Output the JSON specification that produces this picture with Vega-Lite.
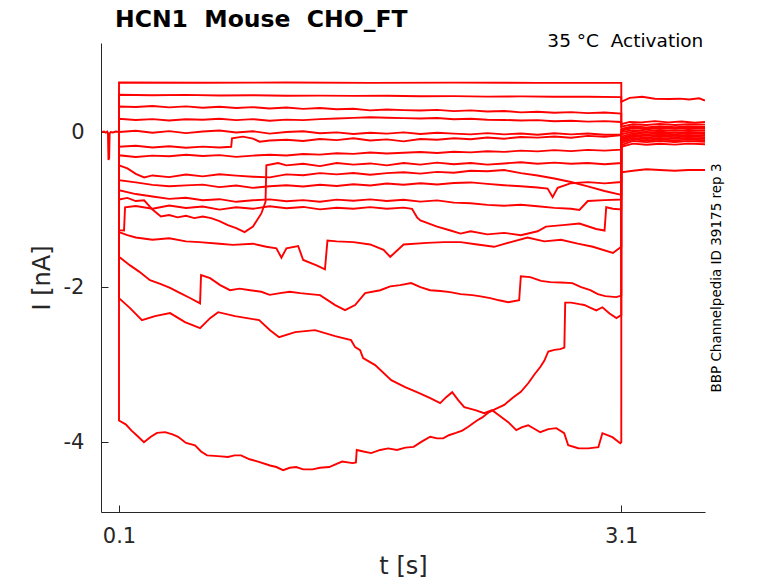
{
"$schema": "https://vega.github.io/schema/vega-lite/v6.json",
"width": 604, "height": 469,
"autosize": {"type": "none"},
"padding": {"left": 101, "top": 43, "right": 73, "bottom": 71},
"background": "white",
"config": {"view": {"stroke": null}, "font": "DejaVu Sans"},
"layer": [
{
"data": {"values": [
{"s":"pre","t":0,"i":0},{"s":"pre","t":0.01,"i":0.006},{"s":"pre","t":0.02,"i":-0.008},{"s":"pre","t":0.03,"i":0.004},{"s":"pre","t":0.034,"i":-0.02},{"s":"pre","t":0.037,"i":-0.36},{"s":"pre","t":0.041,"i":-0.34},{"s":"pre","t":0.044,"i":-0.02},{"s":"pre","t":0.05,"i":0},{"s":"pre","t":0.065,"i":-0.006},{"s":"pre","t":0.08,"i":0.006},{"s":"pre","t":0.0999,"i":0},
{"s":"a","t":0.0999,"i":0},{"s":"a","t":0.1,"i":0.638},{"s":"a","t":0.6,"i":0.635},{"s":"a","t":1.1,"i":0.638},{"s":"a","t":1.6,"i":0.634},{"s":"a","t":2.1,"i":0.637},{"s":"a","t":2.6,"i":0.634},{"s":"a","t":3.1,"i":0.634},{"s":"a","t":3.1001,"i":0.39},{"s":"a","t":3.15,"i":0.44},{"s":"a","t":3.225,"i":0.455},{"s":"a","t":3.3,"i":0.43},{"s":"a","t":3.385,"i":0.425},{"s":"a","t":3.45,"i":0.43},{"s":"a","t":3.505,"i":0.42},{"s":"a","t":3.565,"i":0.435},{"s":"a","t":3.6,"i":0.405},
{"s":"b","t":0.0999,"i":0},{"s":"b","t":0.1,"i":0.48},{"s":"b","t":0.3,"i":0.474},{"s":"b","t":0.5,"i":0.479},{"s":"b","t":0.7,"i":0.471},{"s":"b","t":0.9,"i":0.475},{"s":"b","t":1.1,"i":0.468},{"s":"b","t":1.3,"i":0.47},{"s":"b","t":1.5,"i":0.466},{"s":"b","t":1.7,"i":0.468},{"s":"b","t":1.9,"i":0.461},{"s":"b","t":2.1,"i":0.463},{"s":"b","t":2.3,"i":0.457},{"s":"b","t":2.5,"i":0.46},{"s":"b","t":2.7,"i":0.454},{"s":"b","t":2.9,"i":0.455},{"s":"b","t":3.1,"i":0.45},{"s":"b","t":3.1001,"i":0.1},{"s":"b","t":3.15,"i":0.13},{"s":"b","t":3.22,"i":0.125},{"s":"b","t":3.3,"i":0.14},{"s":"b","t":3.38,"i":0.125},{"s":"b","t":3.46,"i":0.135},{"s":"b","t":3.54,"i":0.12},{"s":"b","t":3.6,"i":0.13},
{"s":"c","t":0.0999,"i":0},{"s":"c","t":0.1,"i":0.33},{"s":"c","t":0.2,"i":0.322},{"s":"c","t":0.3,"i":0.336},{"s":"c","t":0.4,"i":0.318},{"s":"c","t":0.5,"i":0.331},{"s":"c","t":0.6,"i":0.314},{"s":"c","t":0.7,"i":0.326},{"s":"c","t":0.8,"i":0.309},{"s":"c","t":0.9,"i":0.321},{"s":"c","t":1.0,"i":0.304},{"s":"c","t":1.1,"i":0.316},{"s":"c","t":1.2,"i":0.299},{"s":"c","t":1.3,"i":0.31},{"s":"c","t":1.4,"i":0.294},{"s":"c","t":1.5,"i":0.301},{"s":"c","t":1.6,"i":0.279},{"s":"c","t":1.7,"i":0.291},{"s":"c","t":1.8,"i":0.283},{"s":"c","t":1.9,"i":0.278},{"s":"c","t":2.0,"i":0.286},{"s":"c","t":2.1,"i":0.269},{"s":"c","t":2.2,"i":0.279},{"s":"c","t":2.3,"i":0.264},{"s":"c","t":2.4,"i":0.271},{"s":"c","t":2.5,"i":0.254},{"s":"c","t":2.6,"i":0.262},{"s":"c","t":2.7,"i":0.249},{"s":"c","t":2.8,"i":0.256},{"s":"c","t":2.9,"i":0.244},{"s":"c","t":3.0,"i":0.251},{"s":"c","t":3.1,"i":0.238},{"s":"c","t":3.1001,"i":0.07},{"s":"c","t":3.17,"i":0.1},{"s":"c","t":3.25,"i":0.09},{"s":"c","t":3.33,"i":0.105},{"s":"c","t":3.42,"i":0.09},{"s":"c","t":3.5,"i":0.1},{"s":"c","t":3.6,"i":0.095},
{"s":"d","t":0.0999,"i":0},{"s":"d","t":0.1,"i":0.17},{"s":"d","t":0.2,"i":0.155},{"s":"d","t":0.3,"i":0.166},{"s":"d","t":0.4,"i":0.149},{"s":"d","t":0.5,"i":0.164},{"s":"d","t":0.6,"i":0.158},{"s":"d","t":0.7,"i":0.171},{"s":"d","t":0.8,"i":0.154},{"s":"d","t":0.9,"i":0.166},{"s":"d","t":1.0,"i":0.146},{"s":"d","t":1.1,"i":0.16},{"s":"d","t":1.2,"i":0.153},{"s":"d","t":1.3,"i":0.166},{"s":"d","t":1.4,"i":0.175},{"s":"d","t":1.5,"i":0.182},{"s":"d","t":1.6,"i":0.19},{"s":"d","t":1.7,"i":0.184},{"s":"d","t":1.8,"i":0.179},{"s":"d","t":1.9,"i":0.174},{"s":"d","t":2.0,"i":0.181},{"s":"d","t":2.1,"i":0.165},{"s":"d","t":2.2,"i":0.171},{"s":"d","t":2.3,"i":0.159},{"s":"d","t":2.4,"i":0.156},{"s":"d","t":2.5,"i":0.149},{"s":"d","t":2.6,"i":0.154},{"s":"d","t":2.7,"i":0.139},{"s":"d","t":2.8,"i":0.145},{"s":"d","t":2.9,"i":0.134},{"s":"d","t":3.0,"i":0.14},{"s":"d","t":3.1,"i":0.13},{"s":"d","t":3.1001,"i":0.04},{"s":"d","t":3.17,"i":0.075},{"s":"d","t":3.25,"i":0.06},{"s":"d","t":3.33,"i":0.075},{"s":"d","t":3.42,"i":0.062},{"s":"d","t":3.5,"i":0.072},{"s":"d","t":3.6,"i":0.065},
{"s":"e","t":0.0999,"i":0},{"s":"e","t":0.1,"i":0.0},{"s":"e","t":0.2,"i":0.016},{"s":"e","t":0.3,"i":-0.01},{"s":"e","t":0.4,"i":0.012},{"s":"e","t":0.5,"i":-0.014},{"s":"e","t":0.6,"i":0.006},{"s":"e","t":0.7,"i":0.02},{"s":"e","t":0.8,"i":-0.006},{"s":"e","t":0.9,"i":0.01},{"s":"e","t":1.0,"i":-0.02},{"s":"e","t":1.1,"i":0.0},{"s":"e","t":1.2,"i":0.01},{"s":"e","t":1.3,"i":-0.016},{"s":"e","t":1.4,"i":-0.004},{"s":"e","t":1.5,"i":-0.026},{"s":"e","t":1.6,"i":-0.01},{"s":"e","t":1.7,"i":-0.02},{"s":"e","t":1.8,"i":-0.004},{"s":"e","t":1.9,"i":-0.026},{"s":"e","t":2.0,"i":-0.01},{"s":"e","t":2.1,"i":-0.02},{"s":"e","t":2.2,"i":-0.03},{"s":"e","t":2.3,"i":-0.014},{"s":"e","t":2.4,"i":-0.03},{"s":"e","t":2.5,"i":-0.02},{"s":"e","t":2.6,"i":-0.036},{"s":"e","t":2.7,"i":-0.016},{"s":"e","t":2.8,"i":-0.03},{"s":"e","t":2.9,"i":-0.02},{"s":"e","t":3.0,"i":-0.036},{"s":"e","t":3.1,"i":-0.03},{"s":"e","t":3.1001,"i":0.02},{"s":"e","t":3.17,"i":0.05},{"s":"e","t":3.25,"i":0.035},{"s":"e","t":3.33,"i":0.05},{"s":"e","t":3.42,"i":0.04},{"s":"e","t":3.5,"i":0.05},{"s":"e","t":3.6,"i":0.04},
{"s":"f","t":0.0999,"i":0},{"s":"f","t":0.1,"i":-0.19},{"s":"f","t":0.2,"i":-0.178},{"s":"f","t":0.3,"i":-0.2},{"s":"f","t":0.4,"i":-0.184},{"s":"f","t":0.5,"i":-0.202},{"s":"f","t":0.6,"i":-0.188},{"s":"f","t":0.7,"i":-0.2},{"s":"f","t":0.77,"i":-0.19},{"s":"f","t":0.775,"i":-0.08},{"s":"f","t":0.84,"i":-0.06},{"s":"f","t":0.9,"i":-0.085},{"s":"f","t":0.94,"i":-0.125},{"s":"f","t":1.0,"i":-0.11},{"s":"f","t":1.1,"i":-0.1},{"s":"f","t":1.2,"i":-0.115},{"s":"f","t":1.3,"i":-0.09},{"s":"f","t":1.4,"i":-0.105},{"s":"f","t":1.5,"i":-0.08},{"s":"f","t":1.6,"i":-0.11},{"s":"f","t":1.7,"i":-0.095},{"s":"f","t":1.8,"i":-0.12},{"s":"f","t":1.9,"i":-0.09},{"s":"f","t":2.0,"i":-0.1},{"s":"f","t":2.1,"i":-0.08},{"s":"f","t":2.2,"i":-0.094},{"s":"f","t":2.3,"i":-0.07},{"s":"f","t":2.4,"i":-0.086},{"s":"f","t":2.5,"i":-0.064},{"s":"f","t":2.6,"i":-0.072},{"s":"f","t":2.7,"i":-0.058},{"s":"f","t":2.8,"i":-0.074},{"s":"f","t":2.9,"i":-0.05},{"s":"f","t":3.0,"i":-0.06},{"s":"f","t":3.1,"i":-0.04},{"s":"f","t":3.1001,"i":0.0},{"s":"f","t":3.17,"i":0.025},{"s":"f","t":3.25,"i":0.012},{"s":"f","t":3.33,"i":0.028},{"s":"f","t":3.42,"i":0.015},{"s":"f","t":3.5,"i":0.026},{"s":"f","t":3.6,"i":0.018},
{"s":"g","t":0.0999,"i":0},{"s":"g","t":0.1,"i":-0.3},{"s":"g","t":0.2,"i":-0.322},{"s":"g","t":0.3,"i":-0.304},{"s":"g","t":0.4,"i":-0.312},{"s":"g","t":0.5,"i":-0.294},{"s":"g","t":0.6,"i":-0.31},{"s":"g","t":0.7,"i":-0.298},{"s":"g","t":0.8,"i":-0.32},{"s":"g","t":0.9,"i":-0.304},{"s":"g","t":1.0,"i":-0.294},{"s":"g","t":1.1,"i":-0.302},{"s":"g","t":1.2,"i":-0.284},{"s":"g","t":1.3,"i":-0.292},{"s":"g","t":1.4,"i":-0.274},{"s":"g","t":1.5,"i":-0.282},{"s":"g","t":1.6,"i":-0.264},{"s":"g","t":1.7,"i":-0.276},{"s":"g","t":1.8,"i":-0.268},{"s":"g","t":1.9,"i":-0.258},{"s":"g","t":2.0,"i":-0.27},{"s":"g","t":2.1,"i":-0.254},{"s":"g","t":2.2,"i":-0.262},{"s":"g","t":2.3,"i":-0.248},{"s":"g","t":2.4,"i":-0.256},{"s":"g","t":2.5,"i":-0.24},{"s":"g","t":2.6,"i":-0.25},{"s":"g","t":2.7,"i":-0.234},{"s":"g","t":2.8,"i":-0.246},{"s":"g","t":2.9,"i":-0.23},{"s":"g","t":3.0,"i":-0.24},{"s":"g","t":3.1,"i":-0.228},{"s":"g","t":3.1001,"i":-0.03},{"s":"g","t":3.17,"i":0.005},{"s":"g","t":3.25,"i":-0.01},{"s":"g","t":3.33,"i":0.004},{"s":"g","t":3.42,"i":-0.008},{"s":"g","t":3.5,"i":0.002},{"s":"g","t":3.6,"i":-0.006},
{"s":"h","t":0.0999,"i":0},{"s":"h","t":0.1,"i":-0.43},{"s":"h","t":0.15,"i":-0.47},{"s":"h","t":0.2,"i":-0.54},{"s":"h","t":0.25,"i":-0.585},{"s":"h","t":0.3,"i":-0.56},{"s":"h","t":0.4,"i":-0.582},{"s":"h","t":0.5,"i":-0.548},{"s":"h","t":0.6,"i":-0.572},{"s":"h","t":0.7,"i":-0.544},{"s":"h","t":0.8,"i":-0.562},{"s":"h","t":0.9,"i":-0.576},{"s":"h","t":1.0,"i":-0.585},{"s":"h","t":1.1,"i":-0.546},{"s":"h","t":1.2,"i":-0.558},{"s":"h","t":1.3,"i":-0.53},{"s":"h","t":1.4,"i":-0.546},{"s":"h","t":1.5,"i":-0.528},{"s":"h","t":1.6,"i":-0.55},{"s":"h","t":1.7,"i":-0.53},{"s":"h","t":1.8,"i":-0.518},{"s":"h","t":1.9,"i":-0.536},{"s":"h","t":2.0,"i":-0.514},{"s":"h","t":2.1,"i":-0.526},{"s":"h","t":2.2,"i":-0.5},{"s":"h","t":2.3,"i":-0.505},{"s":"h","t":2.4,"i":-0.49},{"s":"h","t":2.5,"i":-0.53},{"s":"h","t":2.6,"i":-0.56},{"s":"h","t":2.7,"i":-0.6},{"s":"h","t":2.8,"i":-0.645},{"s":"h","t":2.9,"i":-0.7},{"s":"h","t":3.0,"i":-0.76},{"s":"h","t":3.1,"i":-0.81},{"s":"h","t":3.1001,"i":-0.06},{"s":"h","t":3.17,"i":-0.015},{"s":"h","t":3.25,"i":-0.03},{"s":"h","t":3.33,"i":-0.016},{"s":"h","t":3.42,"i":-0.028},{"s":"h","t":3.5,"i":-0.018},{"s":"h","t":3.6,"i":-0.026},
{"s":"i","t":0.0999,"i":0},{"s":"i","t":0.1,"i":-0.62},{"s":"i","t":0.2,"i":-0.65},{"s":"i","t":0.3,"i":-0.682},{"s":"i","t":0.4,"i":-0.7},{"s":"i","t":0.5,"i":-0.688},{"s":"i","t":0.6,"i":-0.678},{"s":"i","t":0.7,"i":-0.71},{"s":"i","t":0.8,"i":-0.69},{"s":"i","t":0.9,"i":-0.72},{"s":"i","t":1.0,"i":-0.7},{"s":"i","t":1.1,"i":-0.686},{"s":"i","t":1.2,"i":-0.702},{"s":"i","t":1.3,"i":-0.68},{"s":"i","t":1.4,"i":-0.696},{"s":"i","t":1.5,"i":-0.674},{"s":"i","t":1.6,"i":-0.69},{"s":"i","t":1.7,"i":-0.664},{"s":"i","t":1.8,"i":-0.68},{"s":"i","t":1.9,"i":-0.66},{"s":"i","t":2.0,"i":-0.676},{"s":"i","t":2.1,"i":-0.658},{"s":"i","t":2.2,"i":-0.65},{"s":"i","t":2.3,"i":-0.668},{"s":"i","t":2.4,"i":-0.686},{"s":"i","t":2.5,"i":-0.7},{"s":"i","t":2.6,"i":-0.716},{"s":"i","t":2.66,"i":-0.73},{"s":"i","t":2.69,"i":-0.84},{"s":"i","t":2.72,"i":-0.72},{"s":"i","t":2.8,"i":-0.66},{"s":"i","t":2.9,"i":-0.646},{"s":"i","t":3.0,"i":-0.662},{"s":"i","t":3.1,"i":-0.645},{"s":"i","t":3.1001,"i":-0.08},{"s":"i","t":3.17,"i":-0.035},{"s":"i","t":3.25,"i":-0.05},{"s":"i","t":3.33,"i":-0.036},{"s":"i","t":3.42,"i":-0.048},{"s":"i","t":3.5,"i":-0.038},{"s":"i","t":3.6,"i":-0.046},
{"s":"j","t":0.0999,"i":0},{"s":"j","t":0.1,"i":-0.75},{"s":"j","t":0.2,"i":-0.8},{"s":"j","t":0.3,"i":-0.832},{"s":"j","t":0.4,"i":-0.862},{"s":"j","t":0.5,"i":-0.848},{"s":"j","t":0.6,"i":-0.88},{"s":"j","t":0.7,"i":-0.866},{"s":"j","t":0.8,"i":-0.9},{"s":"j","t":0.9,"i":-0.88},{"s":"j","t":1.0,"i":-0.868},{"s":"j","t":1.1,"i":-0.892},{"s":"j","t":1.2,"i":-0.878},{"s":"j","t":1.3,"i":-0.9},{"s":"j","t":1.4,"i":-0.872},{"s":"j","t":1.5,"i":-0.886},{"s":"j","t":1.6,"i":-0.868},{"s":"j","t":1.7,"i":-0.89},{"s":"j","t":1.8,"i":-0.874},{"s":"j","t":1.9,"i":-0.898},{"s":"j","t":2.0,"i":-0.882},{"s":"j","t":2.1,"i":-0.91},{"s":"j","t":2.2,"i":-0.918},{"s":"j","t":2.3,"i":-0.94},{"s":"j","t":2.4,"i":-0.95},{"s":"j","t":2.5,"i":-0.938},{"s":"j","t":2.6,"i":-0.958},{"s":"j","t":2.7,"i":-0.978},{"s":"j","t":2.8,"i":-0.99},{"s":"j","t":2.85,"i":-1.005},{"s":"j","t":2.9,"i":-0.89},{"s":"j","t":3.0,"i":-0.878},{"s":"j","t":3.1,"i":-0.87},{"s":"j","t":3.1001,"i":-0.1},{"s":"j","t":3.17,"i":-0.055},{"s":"j","t":3.25,"i":-0.07},{"s":"j","t":3.33,"i":-0.056},{"s":"j","t":3.42,"i":-0.068},{"s":"j","t":3.5,"i":-0.058},{"s":"j","t":3.6,"i":-0.066},
{"s":"k","t":0.0999,"i":0},{"s":"k","t":0.1,"i":-0.87},{"s":"k","t":0.15,"i":-0.85},{"s":"k","t":0.2,"i":-0.89},{"s":"k","t":0.25,"i":-0.88},{"s":"k","t":0.3,"i":-1.0},{"s":"k","t":0.35,"i":-1.09},{"s":"k","t":0.4,"i":-1.07},{"s":"k","t":0.45,"i":-1.1},{"s":"k","t":0.5,"i":-1.08},{"s":"k","t":0.55,"i":-1.11},{"s":"k","t":0.6,"i":-1.09},{"s":"k","t":0.65,"i":-1.11},{"s":"k","t":0.7,"i":-1.15},{"s":"k","t":0.75,"i":-1.2},{"s":"k","t":0.8,"i":-1.24},{"s":"k","t":0.85,"i":-1.29},{"s":"k","t":0.9,"i":-1.22},{"s":"k","t":0.95,"i":-1.05},{"s":"k","t":0.975,"i":-0.9},{"s":"k","t":0.98,"i":-0.43},{"s":"k","t":1.05,"i":-0.4},{"s":"k","t":1.1,"i":-0.43},{"s":"k","t":1.2,"i":-0.41},{"s":"k","t":1.3,"i":-0.44},{"s":"k","t":1.4,"i":-0.4},{"s":"k","t":1.5,"i":-0.42},{"s":"k","t":1.6,"i":-0.405},{"s":"k","t":1.7,"i":-0.43},{"s":"k","t":1.8,"i":-0.4},{"s":"k","t":1.9,"i":-0.42},{"s":"k","t":2.0,"i":-0.395},{"s":"k","t":2.1,"i":-0.415},{"s":"k","t":2.2,"i":-0.4},{"s":"k","t":2.3,"i":-0.42},{"s":"k","t":2.4,"i":-0.405},{"s":"k","t":2.5,"i":-0.39},{"s":"k","t":2.6,"i":-0.41},{"s":"k","t":2.7,"i":-0.395},{"s":"k","t":2.8,"i":-0.41},{"s":"k","t":2.9,"i":-0.4},{"s":"k","t":3.0,"i":-0.415},{"s":"k","t":3.1,"i":-0.4},{"s":"k","t":3.1001,"i":-0.12},{"s":"k","t":3.17,"i":-0.075},{"s":"k","t":3.25,"i":-0.09},{"s":"k","t":3.33,"i":-0.076},{"s":"k","t":3.42,"i":-0.088},{"s":"k","t":3.5,"i":-0.078},{"s":"k","t":3.6,"i":-0.086},
{"s":"l","t":0.0999,"i":0},{"s":"l","t":0.1,"i":-1.265},{"s":"l","t":0.13,"i":-1.27},{"s":"l","t":0.136,"i":-0.97},{"s":"l","t":0.2,"i":-0.955},{"s":"l","t":0.3,"i":-0.99},{"s":"l","t":0.4,"i":-0.948},{"s":"l","t":0.5,"i":-0.98},{"s":"l","t":0.6,"i":-0.96},{"s":"l","t":0.7,"i":-1.0},{"s":"l","t":0.8,"i":-0.97},{"s":"l","t":0.9,"i":-0.99},{"s":"l","t":1.0,"i":-0.958},{"s":"l","t":1.1,"i":-0.982},{"s":"l","t":1.2,"i":-0.966},{"s":"l","t":1.3,"i":-0.998},{"s":"l","t":1.4,"i":-0.976},{"s":"l","t":1.5,"i":-0.99},{"s":"l","t":1.6,"i":-0.968},{"s":"l","t":1.7,"i":-0.99},{"s":"l","t":1.8,"i":-0.975},{"s":"l","t":1.85,"i":-0.99},{"s":"l","t":1.88,"i":-1.1},{"s":"l","t":1.9,"i":-1.14},{"s":"l","t":2.0,"i":-1.22},{"s":"l","t":2.08,"i":-1.27},{"s":"l","t":2.14,"i":-1.31},{"s":"l","t":2.2,"i":-1.28},{"s":"l","t":2.3,"i":-1.32},{"s":"l","t":2.4,"i":-1.3},{"s":"l","t":2.5,"i":-1.33},{"s":"l","t":2.6,"i":-1.28},{"s":"l","t":2.65,"i":-1.22},{"s":"l","t":2.75,"i":-1.2},{"s":"l","t":2.85,"i":-1.18},{"s":"l","t":2.95,"i":-1.25},{"s":"l","t":3.0,"i":-1.27},{"s":"l","t":3.01,"i":-0.97},{"s":"l","t":3.05,"i":-0.99},{"s":"l","t":3.1,"i":-1.0},{"s":"l","t":3.1001,"i":-0.14},{"s":"l","t":3.17,"i":-0.095},{"s":"l","t":3.25,"i":-0.11},{"s":"l","t":3.33,"i":-0.096},{"s":"l","t":3.42,"i":-0.108},{"s":"l","t":3.5,"i":-0.098},{"s":"l","t":3.6,"i":-0.106},
{"s":"m","t":0.0999,"i":0},{"s":"m","t":0.1,"i":-1.29},{"s":"m","t":0.15,"i":-1.33},{"s":"m","t":0.2,"i":-1.36},{"s":"m","t":0.3,"i":-1.39},{"s":"m","t":0.4,"i":-1.37},{"s":"m","t":0.5,"i":-1.41},{"s":"m","t":0.58,"i":-1.42},{"s":"m","t":0.7,"i":-1.44},{"s":"m","t":0.78,"i":-1.455},{"s":"m","t":0.9,"i":-1.44},{"s":"m","t":0.98,"i":-1.48},{"s":"m","t":1.04,"i":-1.5},{"s":"m","t":1.07,"i":-1.62},{"s":"m","t":1.1,"i":-1.5},{"s":"m","t":1.17,"i":-1.47},{"s":"m","t":1.2,"i":-1.65},{"s":"m","t":1.28,"i":-1.72},{"s":"m","t":1.33,"i":-1.77},{"s":"m","t":1.345,"i":-1.4},{"s":"m","t":1.4,"i":-1.41},{"s":"m","t":1.5,"i":-1.42},{"s":"m","t":1.6,"i":-1.45},{"s":"m","t":1.68,"i":-1.52},{"s":"m","t":1.72,"i":-1.61},{"s":"m","t":1.8,"i":-1.45},{"s":"m","t":1.94,"i":-1.43},{"s":"m","t":2.04,"i":-1.42},{"s":"m","t":2.14,"i":-1.42},{"s":"m","t":2.24,"i":-1.45},{"s":"m","t":2.34,"i":-1.48},{"s":"m","t":2.44,"i":-1.42},{"s":"m","t":2.54,"i":-1.36},{"s":"m","t":2.64,"i":-1.41},{"s":"m","t":2.74,"i":-1.39},{"s":"m","t":2.84,"i":-1.44},{"s":"m","t":2.93,"i":-1.48},{"s":"m","t":3.05,"i":-1.56},{"s":"m","t":3.1,"i":-1.48},{"s":"m","t":3.1001,"i":-0.17},{"s":"m","t":3.17,"i":-0.115},{"s":"m","t":3.25,"i":-0.13},{"s":"m","t":3.33,"i":-0.116},{"s":"m","t":3.42,"i":-0.128},{"s":"m","t":3.5,"i":-0.118},{"s":"m","t":3.6,"i":-0.126},
{"s":"n","t":0.0999,"i":0},{"s":"n","t":0.1,"i":-1.61},{"s":"n","t":0.166,"i":-1.72},{"s":"n","t":0.22,"i":-1.8},{"s":"n","t":0.285,"i":-1.91},{"s":"n","t":0.35,"i":-1.96},{"s":"n","t":0.405,"i":-2.01},{"s":"n","t":0.46,"i":-2.07},{"s":"n","t":0.524,"i":-2.14},{"s":"n","t":0.584,"i":-2.21},{"s":"n","t":0.59,"i":-1.845},{"s":"n","t":0.644,"i":-1.884},{"s":"n","t":0.704,"i":-1.974},{"s":"n","t":0.763,"i":-2.04},{"s":"n","t":0.82,"i":-2.02},{"s":"n","t":0.883,"i":-2.04},{"s":"n","t":0.95,"i":-2.06},{"s":"n","t":1.0,"i":-2.1},{"s":"n","t":1.062,"i":-2.077},{"s":"n","t":1.12,"i":-2.06},{"s":"n","t":1.182,"i":-2.077},{"s":"n","t":1.24,"i":-2.09},{"s":"n","t":1.301,"i":-2.103},{"s":"n","t":1.391,"i":-2.232},{"s":"n","t":1.45,"i":-2.297},{"s":"n","t":1.51,"i":-2.232},{"s":"n","t":1.57,"i":-2.077},{"s":"n","t":1.66,"i":-2.04},{"s":"n","t":1.72,"i":-1.99},{"s":"n","t":1.779,"i":-1.974},{"s":"n","t":1.845,"i":-1.948},{"s":"n","t":1.9,"i":-2.0},{"s":"n","t":1.958,"i":-2.04},{"s":"n","t":2.02,"i":-2.05},{"s":"n","t":2.078,"i":-2.065},{"s":"n","t":2.14,"i":-2.09},{"s":"n","t":2.21,"i":-2.103},{"s":"n","t":2.26,"i":-2.12},{"s":"n","t":2.317,"i":-2.142},{"s":"n","t":2.37,"i":-2.17},{"s":"n","t":2.425,"i":-2.194},{"s":"n","t":2.49,"i":-2.17},{"s":"n","t":2.5,"i":-1.86},{"s":"n","t":2.556,"i":-1.871},{"s":"n","t":2.62,"i":-1.92},{"s":"n","t":2.676,"i":-1.935},{"s":"n","t":2.74,"i":-1.94},{"s":"n","t":2.807,"i":-1.948},{"s":"n","t":2.86,"i":-2.0},{"s":"n","t":2.915,"i":-2.039},{"s":"n","t":2.96,"i":-2.09},{"s":"n","t":3.004,"i":-2.116},{"s":"n","t":3.07,"i":-2.129},{"s":"n","t":3.1,"i":-2.11},{"s":"n","t":3.1001,"i":0.03},{"s":"n","t":3.17,"i":0.055},{"s":"n","t":3.25,"i":0.045},{"s":"n","t":3.33,"i":0.058},{"s":"n","t":3.42,"i":0.046},{"s":"n","t":3.5,"i":0.056},{"s":"n","t":3.6,"i":0.05},
{"s":"o","t":0.0999,"i":0},{"s":"o","t":0.1,"i":-2.142},{"s":"o","t":0.166,"i":-2.271},{"s":"o","t":0.237,"i":-2.426},{"s":"o","t":0.315,"i":-2.374},{"s":"o","t":0.405,"i":-2.335},{"s":"o","t":0.494,"i":-2.452},{"s":"o","t":0.584,"i":-2.529},{"s":"o","t":0.644,"i":-2.4},{"s":"o","t":0.692,"i":-2.323},{"s":"o","t":0.793,"i":-2.374},{"s":"o","t":0.937,"i":-2.426},{"s":"o","t":1.002,"i":-2.555},{"s":"o","t":1.056,"i":-2.645},{"s":"o","t":1.152,"i":-2.581},{"s":"o","t":1.271,"i":-2.555},{"s":"o","t":1.391,"i":-2.632},{"s":"o","t":1.486,"i":-2.684},{"s":"o","t":1.51,"i":-2.774},{"s":"o","t":1.54,"i":-2.813},{"s":"o","t":1.558,"i":-2.916},{"s":"o","t":1.63,"i":-3.006},{"s":"o","t":1.726,"i":-3.2},{"s":"o","t":1.809,"i":-3.29},{"s":"o","t":1.893,"i":-3.368},{"s":"o","t":1.959,"i":-3.432},{"s":"o","t":2.018,"i":-3.497},{"s":"o","t":2.054,"i":-3.419},{"s":"o","t":2.09,"i":-3.355},{"s":"o","t":2.126,"i":-3.458},{"s":"o","t":2.162,"i":-3.548},{"s":"o","t":2.228,"i":-3.587},{"s":"o","t":2.281,"i":-3.626},{"s":"o","t":2.329,"i":-3.587},{"s":"o","t":2.353,"i":-3.626},{"s":"o","t":2.425,"i":-3.742},{"s":"o","t":2.473,"i":-3.845},{"s":"o","t":2.508,"i":-3.806},{"s":"o","t":2.544,"i":-3.781},{"s":"o","t":2.616,"i":-3.871},{"s":"o","t":2.664,"i":-3.832},{"s":"o","t":2.712,"i":-3.819},{"s":"o","t":2.759,"i":-3.884},{"s":"o","t":2.783,"i":-4.039},{"s":"o","t":2.843,"i":-4.077},{"s":"o","t":2.903,"i":-4.08},{"s":"o","t":2.963,"i":-4.065},{"s":"o","t":2.987,"i":-3.884},{"s":"o","t":3.047,"i":-3.935},{"s":"o","t":3.094,"i":-4.013},{"s":"o","t":3.1,"i":-4.0},{"s":"o","t":3.1001,"i":-0.19},{"s":"o","t":3.17,"i":-0.15},{"s":"o","t":3.25,"i":-0.165},{"s":"o","t":3.33,"i":-0.152},{"s":"o","t":3.42,"i":-0.162},{"s":"o","t":3.5,"i":-0.15},{"s":"o","t":3.6,"i":-0.158},
{"s":"p","t":0.0999,"i":0},{"s":"p","t":0.1,"i":-3.72},{"s":"p","t":0.14,"i":-3.77},{"s":"p","t":0.175,"i":-3.85},{"s":"p","t":0.21,"i":-3.92},{"s":"p","t":0.249,"i":-4.0},{"s":"p","t":0.29,"i":-3.93},{"s":"p","t":0.327,"i":-3.88},{"s":"p","t":0.375,"i":-3.87},{"s":"p","t":0.42,"i":-3.9},{"s":"p","t":0.453,"i":-3.93},{"s":"p","t":0.5,"i":-4.01},{"s":"p","t":0.554,"i":-4.04},{"s":"p","t":0.59,"i":-4.12},{"s":"p","t":0.626,"i":-4.17},{"s":"p","t":0.69,"i":-4.18},{"s":"p","t":0.751,"i":-4.19},{"s":"p","t":0.79,"i":-4.17},{"s":"p","t":0.829,"i":-4.17},{"s":"p","t":0.88,"i":-4.22},{"s":"p","t":0.931,"i":-4.25},{"s":"p","t":1.002,"i":-4.3},{"s":"p","t":1.04,"i":-4.32},{"s":"p","t":1.08,"i":-4.36},{"s":"p","t":1.12,"i":-4.33},{"s":"p","t":1.158,"i":-4.32},{"s":"p","t":1.2,"i":-4.35},{"s":"p","t":1.256,"i":-4.35},{"s":"p","t":1.3,"i":-4.33},{"s":"p","t":1.355,"i":-4.32},{"s":"p","t":1.4,"i":-4.28},{"s":"p","t":1.433,"i":-4.25},{"s":"p","t":1.495,"i":-4.27},{"s":"p","t":1.515,"i":-4.26},{"s":"p","t":1.52,"i":-4.1},{"s":"p","t":1.56,"i":-4.12},{"s":"p","t":1.606,"i":-4.14},{"s":"p","t":1.66,"i":-4.1},{"s":"p","t":1.708,"i":-4.08},{"s":"p","t":1.76,"i":-4.1},{"s":"p","t":1.81,"i":-4.07},{"s":"p","t":1.86,"i":-4.06},{"s":"p","t":1.91,"i":-3.99},{"s":"p","t":1.959,"i":-3.93},{"s":"p","t":2.0,"i":-3.95},{"s":"p","t":2.036,"i":-3.95},{"s":"p","t":2.07,"i":-3.91},{"s":"p","t":2.112,"i":-3.88},{"s":"p","t":2.15,"i":-3.85},{"s":"p","t":2.186,"i":-3.8},{"s":"p","t":2.238,"i":-3.72},{"s":"p","t":2.27,"i":-3.68},{"s":"p","t":2.305,"i":-3.62},{"s":"p","t":2.35,"i":-3.57},{"s":"p","t":2.401,"i":-3.52},{"s":"p","t":2.45,"i":-3.43},{"s":"p","t":2.5,"i":-3.35},{"s":"p","t":2.544,"i":-3.24},{"s":"p","t":2.58,"i":-3.13},{"s":"p","t":2.616,"i":-3.03},{"s":"p","t":2.64,"i":-2.95},{"s":"p","t":2.664,"i":-2.83},{"s":"p","t":2.7,"i":-2.81},{"s":"p","t":2.735,"i":-2.8},{"s":"p","t":2.76,"i":-2.78},{"s":"p","t":2.765,"i":-2.2},{"s":"p","t":2.8,"i":-2.2},{"s":"p","t":2.85,"i":-2.22},{"s":"p","t":2.879,"i":-2.23},{"s":"p","t":2.92,"i":-2.27},{"s":"p","t":2.951,"i":-2.3},{"s":"p","t":2.987,"i":-2.26},{"s":"p","t":3.03,"i":-2.34},{"s":"p","t":3.071,"i":-2.4},{"s":"p","t":3.1,"i":-2.36},{"s":"p","t":3.1001,"i":-0.52},{"s":"p","t":3.17,"i":-0.5},{"s":"p","t":3.25,"i":-0.48},{"s":"p","t":3.33,"i":-0.49},{"s":"p","t":3.42,"i":-0.5},{"s":"p","t":3.5,"i":-0.49},{"s":"p","t":3.6,"i":-0.49}
]},
"mark": {"type": "line", "color": "#ff0000", "strokeWidth": 1.9, "clip": true},
"encoding": {
"x": {"field": "t", "type": "quantitative", "scale": {"domain": [-0.0076, 3.6], "nice": false, "zero": false},
"axis": {"values": [0.1, 3.1], "format": ".1f", "grid": false, "labelFontSize": 21, "labelColor": "#262626", "labelFont": "DejaVu Sans", "labelPadding": 20, "labelFlush": false, "tickSize": -7, "tickColor": "#262626", "domainColor": "#262626", "title": "t [s]", "titleFontSize": 24, "titleFontWeight": "normal", "titleColor": "#262626", "titleFont": "DejaVu Sans", "titlePadding": 8}},
"y": {"field": "i", "type": "quantitative", "scale": {"domain": [-4.9, 1.148], "nice": false, "zero": false},
"axis": {"values": [0, -2, -4], "labelExpr": "replace(datum.label, '\u2212', '-')", "grid": false, "labelFontSize": 21, "labelColor": "#262626", "labelFont": "DejaVu Sans", "labelPadding": 24, "labelFlush": false, "tickSize": -7, "tickColor": "#262626", "domainColor": "#262626", "title": "I [nA]", "titleFontSize": 24, "titleFontWeight": "normal", "titleColor": "#262626", "titleFont": "DejaVu Sans", "titlePadding": 9}},
"detail": {"field": "s"}
}
},
{
"data": {"values": [{"label": "35 °C\u00a0 Activation"}]},
"mark": {"type": "text", "align": "right", "baseline": "alphabetic", "fontSize": 18.5, "font": "DejaVu Sans", "color": "#000000"},
"encoding": {
"x": {"datum": 3.59, "type": "quantitative"},
"y": {"datum": 1.093, "type": "quantitative", "axis": {"orient": "right", "title": "BBP Channelpedia ID 39175 rep 3", "titleAngle": 270, "titleFontSize": 13.5, "titleFontWeight": "normal", "titleColor": "#000000", "titleFont": "DejaVu Sans", "titlePadding": 18, "domain": false, "ticks": false, "labels": false, "grid": false}},
"text": {"field": "label"}
}
},
{
"data": {"values": [{"label": "HCN1\u00a0 Mouse\u00a0 CHO_FT"}]},
"mark": {"type": "text", "align": "left", "baseline": "alphabetic", "fontSize": 23.5, "fontWeight": "bold", "font": "DejaVu Sans", "color": "#000000", "clip": false},
"encoding": {
"x": {"datum": 0.076, "type": "quantitative"},
"y": {"datum": 1.354, "type": "quantitative", "axis": null},
"text": {"field": "label"}
}
}
],
"resolve": {"axis": {"y": "independent"}}
}
